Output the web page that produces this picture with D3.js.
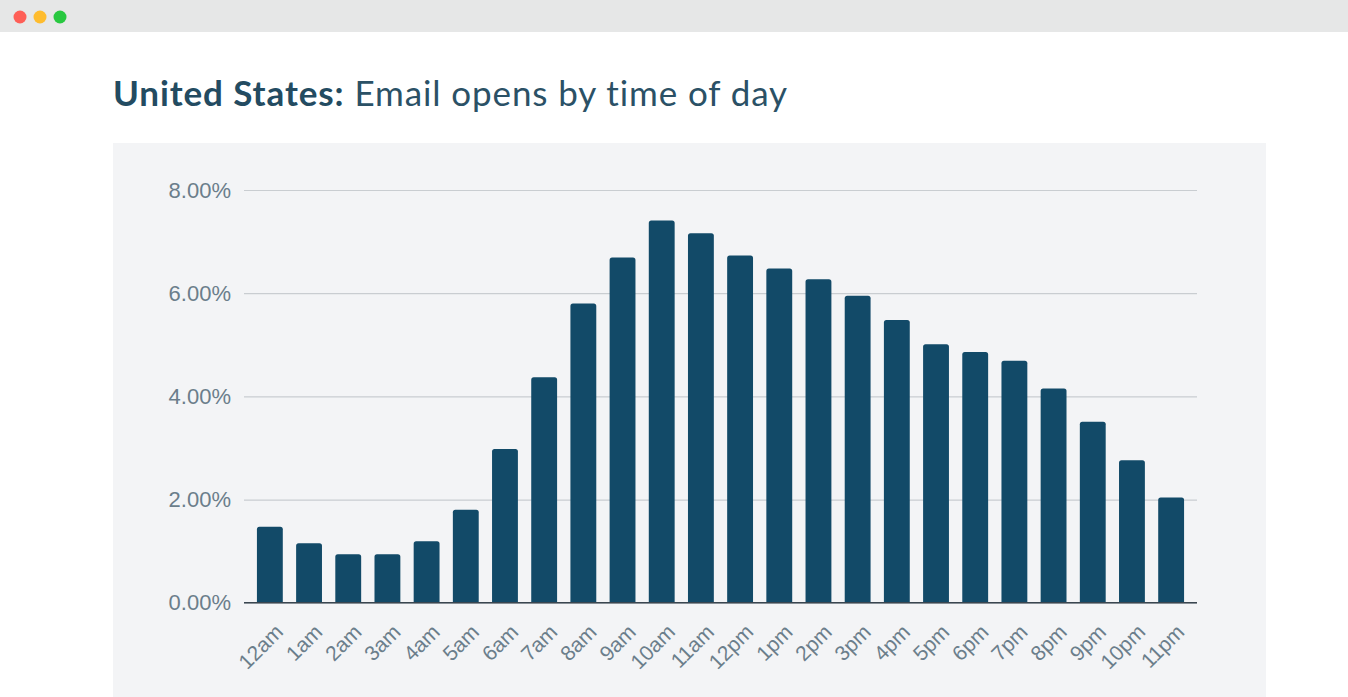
<!DOCTYPE html>
<html>
<head>
<meta charset="utf-8">
<script src="https://cdn.jsdelivr.net/npm/d3@7"></script>
<style>
  html, body { margin: 0; padding: 0; background: #ffffff; overflow: hidden; }
  svg { display: block; }
</style>
</head>
<body>
<svg id="chart" width="1348" height="697"></svg>
<script>
const categories = ["12am","1am","2am","3am","4am","5am","6am","7am","8am","9am","10am","11am",
                    "12pm","1pm","2pm","3pm","4pm","5pm","6pm","7pm","8pm","9pm","10pm","11pm"];
const opens = [1.47, 1.15, 0.94, 0.94, 1.19, 1.80, 2.98, 4.37, 5.80, 6.69, 7.41, 7.16,
               6.73, 6.48, 6.27, 5.95, 5.48, 5.01, 4.86, 4.69, 4.15, 3.51, 2.76, 2.04];
const yTicks = [0, 2, 4, 6, 8];
const titleBold = "United States:";
const titleRest = " Email opens by time of day";

const svg = d3.select("#chart");

// window chrome
svg.append("rect").attr("x", 0).attr("y", 0).attr("width", 1348).attr("height", 32).attr("fill", "#e6e7e7");
const dots = [["#fe5f57", 20], ["#febc2e", 40], ["#28c840", 60]];
svg.selectAll("circle.dot").data(dots).join("circle")
  .attr("class", "dot").attr("cx", d => d[1]).attr("cy", 17).attr("r", 6.5).attr("fill", d => d[0]);

// title
const title = svg.append("text").attr("x", 113).attr("y", 106)
  .attr("font-family", "Lato, 'Open Sans', sans-serif").attr("font-size", 35)
  .attr("letter-spacing", 0.9).attr("fill", "#234b61");
title.append("tspan").attr("font-weight", 700).text(titleBold);
title.append("tspan").attr("font-weight", 400).attr("fill", "#2b5166").text(titleRest);

// panel
svg.append("rect").attr("x", 113).attr("y", 143).attr("width", 1153).attr("height", 560).attr("fill", "#f3f4f6");

const x = d3.scaleBand().domain(categories).range([244, 1197]).paddingInner(0.34).paddingOuter(0.33);
const y = d3.scaleLinear().domain([0, 8]).range([602.7, 190]);

// grid
const grid = svg.append("g")
  .call(d3.axisLeft(y).tickValues(yTicks).tickSize(-(1197 - 244)).tickFormat(""));
grid.attr("transform", "translate(244,0)");
grid.select(".domain").remove();
grid.selectAll(".tick line").attr("stroke", "#c9cdd1").attr("stroke-width", 1.2);

// y labels
const yAxis = svg.append("g").attr("transform", "translate(231,0)")
  .call(d3.axisLeft(y).tickValues(yTicks).tickSize(0).tickPadding(0).tickFormat(d => d.toFixed(2) + "%"));
yAxis.select(".domain").remove();
yAxis.selectAll("text").attr("font-family", "'Liberation Sans', Arial, sans-serif")
  .attr("font-size", 22).attr("fill", "#6b7e8b");

// bars with rounded tops
const r = 2.5;
function barPath(d, i) {
  const x0 = x(categories[i]), w = x.bandwidth(), y0 = y(d), yb = y(0);
  return `M${x0},${yb} L${x0},${y0 + r} Q${x0},${y0} ${x0 + r},${y0} L${x0 + w - r},${y0} Q${x0 + w},${y0} ${x0 + w},${y0 + r} L${x0 + w},${yb} Z`;
}
svg.append("g").selectAll("path").data(opens).join("path")
  .attr("d", barPath).attr("fill", "#124a68");

// x axis line
svg.append("line").attr("x1", 244).attr("x2", 1197).attr("y1", y(0)).attr("y2", y(0))
  .attr("stroke", "#3a4650").attr("stroke-width", 1.5);

// x labels
const xAxis = svg.append("g").attr("transform", `translate(0,${y(0)})`)
  .call(d3.axisBottom(x).tickSize(0).tickPadding(0));
xAxis.select(".domain").remove();
xAxis.selectAll(".tick text")
  .attr("font-family", "'Liberation Sans', Arial, sans-serif")
  .attr("font-size", 21).attr("fill", "#6b7e8b")
  .attr("text-anchor", "end")
  .attr("y", 0).attr("dy", "0.71em")
  .attr("transform", "translate(4,20) rotate(-45)");
</script>
</body>
</html>
